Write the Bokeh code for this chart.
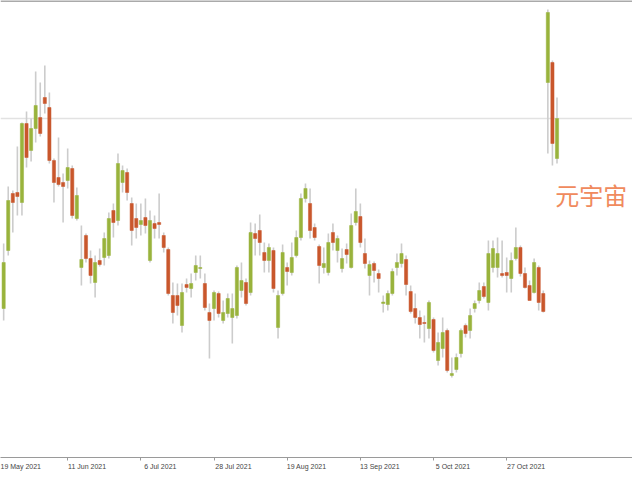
from bokeh.plotting import figure
from bokeh.models import Range1d, FixedTicker, Span, Label, ColumnDataSource
from bokeh.embed import file_html
from bokeh.resources import INLINE

# x axis: trading-session index, one tick label every 16 sessions
tick_sessions = [0, 16, 32, 48, 64, 80, 96, 112]
tick_labels = ["19 May 2021", "11 Jun 2021", "6 Jul 2021", "28 Jul 2021",
               "19 Aug 2021", "13 Sep 2021", "5 Oct 2021", "27 Oct 2021"]
first_session = 2

opens = [984, 1100, 1214, 1216, 1196, 1354, 1300, 1344, 1366, 1406,
         1386, 1280, 1246, 1236, 1240, 1264, 1164, 1066, 1130, 1084,
         1036, 1080, 1086, 1090, 1180, 1160, 1236, 1256, 1194, 1164,
         1152, 1166, 1080, 1154, 1156, 1130, 1102, 1010, 1010, 950,
         1032, 1024, 1056, 1064, 1034, 976, 984, 1014, 960, 974,
         966, 970, 1020, 1036, 1016, 1134, 1140, 1096, 1080, 1100,
         946, 1014, 1066, 1056, 1090, 1126, 1204, 1194, 1146, 1108,
         1066, 1056, 1136, 1100, 1064, 1102, 1066, 1156, 1168, 1094,
         1050, 1074, 1054, 994, 992, 1014, 1066, 1074, 1082, 1018,
         984, 966, 956, 944, 962, 880, 904, 940, 850, 862,
         894, 950, 940, 984, 1000, 1028, 996, 1066, 1066, 1054,
         1056, 1044, 1084, 1106, 1054, 1030, 1016, 1066, 1014, 1436,
         1476, 1284]
highs = [1114, 1228, 1220, 1308, 1356, 1378, 1364, 1458, 1436, 1470,
         1416, 1284, 1326, 1254, 1304, 1270, 1226, 1150, 1134, 1100,
         1090, 1104, 1136, 1176, 1194, 1294, 1270, 1264, 1206, 1194,
         1194, 1204, 1180, 1170, 1214, 1136, 1106, 1036, 1034, 1034,
         1044, 1054, 1090, 1090, 1054, 994, 1020, 1018, 1000, 1014,
         1014, 1070, 1076, 1044, 1156, 1154, 1172, 1116, 1114, 1106,
         1020, 1112, 1076, 1116, 1140, 1214, 1234, 1224, 1154, 1112,
         1106, 1134, 1154, 1130, 1104, 1114, 1174, 1224, 1194, 1124,
         1080, 1078, 1062, 1010, 1020, 1064, 1094, 1114, 1090, 1030,
         1014, 980, 970, 1000, 966, 936, 966, 944, 886, 894,
         944, 954, 984, 1000, 1036, 1036, 1120, 1120, 1126, 1120,
         1086, 1096, 1146, 1110, 1066, 1040, 1084, 1070, 1020, 1582,
         1480, 1406]
lows = [960, 1090, 1136, 1170, 1170, 1266, 1278, 1316, 1328, 1374,
        1274, 1196, 1228, 1156, 1224, 1164, 1160, 1030, 1076, 1034,
        1006, 1068, 1070, 1084, 1126, 1150, 1216, 1200, 1110, 1124,
        1130, 1134, 1076, 1124, 1124, 1096, 1010, 954, 970, 936,
        1016, 1006, 1040, 1044, 980, 884, 960, 966, 954, 966,
        914, 964, 1006, 990, 1010, 1090, 1090, 1056, 1056, 1016,
        924, 1010, 1030, 1050, 1086, 1120, 1196, 1124, 1120, 1034,
        1054, 1050, 1100, 1076, 1056, 1074, 1064, 1150, 1106, 1064,
        1010, 1036, 1016, 976, 980, 1010, 1050, 1066, 1010, 974,
        954, 924, 916, 924, 896, 870, 886, 856, 846, 856,
        886, 926, 924, 976, 994, 1004, 980, 1056, 1046, 1046,
        1016, 1016, 1080, 1048, 1024, 1000, 1014, 980, 976, 1294,
        1270, 1274]
closes = [1076, 1200, 1196, 1208, 1354, 1286, 1344, 1390, 1334, 1394,
          1280, 1236, 1232, 1228, 1266, 1170, 1210, 1082, 1084, 1050,
          1076, 1072, 1124, 1164, 1156, 1274, 1260, 1216, 1140, 1146,
          1160, 1150, 1160, 1144, 1152, 1106, 1014, 976, 990, 1016,
          1026, 1034, 1070, 1066, 986, 960, 1016, 974, 976, 1004,
          984, 1066, 1040, 994, 1136, 1124, 1116, 1080, 1106, 1024,
          1010, 1096, 1058, 1086, 1126, 1204, 1224, 1140, 1126, 1070,
          1074, 1116, 1116, 1124, 1084, 1092, 1150, 1178, 1116, 1074,
          1072, 1060, 1044, 997, 1014, 1058, 1076, 1094, 1032, 978,
          966, 952, 954, 996, 900, 916, 936, 860, 854, 886,
          940, 934, 970, 994, 1020, 1008, 1094, 1104, 1094, 1050,
          1050, 1080, 1106, 1054, 1026, 1000, 1076, 996, 978, 1576,
          1314, 1364]

level = 1364
caption = "元宇宙"

GREEN = "#99b33c"
RED = "#c9572c"
WICK = "#cccccc"

xs = list(range(first_session, first_session + len(opens)))
up = dict(x=[], top=[], bottom=[])
dn = dict(x=[], top=[], bottom=[])
for xi, o, c in zip(xs, opens, closes):
    d = up if c >= o else dn
    d["x"].append(xi)
    d["top"].append(max(o, c))
    d["bottom"].append(min(o, c))

wick_src = ColumnDataSource(dict(x=xs, high=highs, low=lows))

p = figure(width=632, height=472,
           x_range=Range1d(1.31, 139.51), y_range=Range1d(686, 1600),
           output_backend="svg", toolbar_location=None,
           y_axis_location=None, min_border=0, min_border_bottom=12)
p.grid.visible = False
p.outline_line_color = None
p.background_fill_color = "white"
p.border_fill_color = "white"

p.add_layout(Span(location=level, dimension="width", line_color="#e2e2e2",
                  line_width=1.5, level="underlay"))
p.add_layout(Span(location=1600, dimension="width", line_color="#aaaaaa",
                  line_width=3, level="underlay"))

p.segment(x0="x", y0="low", x1="x", y1="high", source=wick_src,
          line_color=WICK, line_width=1.6)
p.vbar(x="x", width=0.7, top="top", bottom="bottom", source=ColumnDataSource(up),
       fill_color=GREEN, line_color=GREEN, line_width=0.5)
p.vbar(x="x", width=0.7, top="top", bottom="bottom", source=ColumnDataSource(dn),
       fill_color=RED, line_color=RED, line_width=0.5)

# labels start at the tick: place each label's centre a little to the right
label_shift = 4.25
major = [t + label_shift for t in tick_sessions]
p.xaxis.ticker = FixedTicker(ticks=major, minor_ticks=tick_sessions)
p.xaxis.major_label_overrides = {m: lab for m, lab in zip(major, tick_labels)}
p.xaxis.axis_line_color = "#9a9a9a"
p.xaxis.axis_line_width = 1.2
p.xaxis.major_tick_line_color = None
p.xaxis.major_tick_out = 0
p.xaxis.major_tick_in = 0
p.xaxis.minor_tick_line_color = "#9a9a9a"
p.xaxis.minor_tick_out = 3
p.xaxis.minor_tick_in = 0
p.xaxis.major_label_standoff = 2
p.xaxis.major_label_text_font = "Liberation Sans"
p.xaxis.major_label_text_font_size = "7px"
p.xaxis.major_label_text_color = "#444444"

p.add_layout(Label(x=xs[-1] - 0.4, y=1213, text=caption,
                   text_font="Noto Sans CJK SC", text_font_size="24px",
                   text_color="#f08a5d", text_align="left",
                   text_baseline="middle"))

open("out.html", "w").write(file_html(p, INLINE))
